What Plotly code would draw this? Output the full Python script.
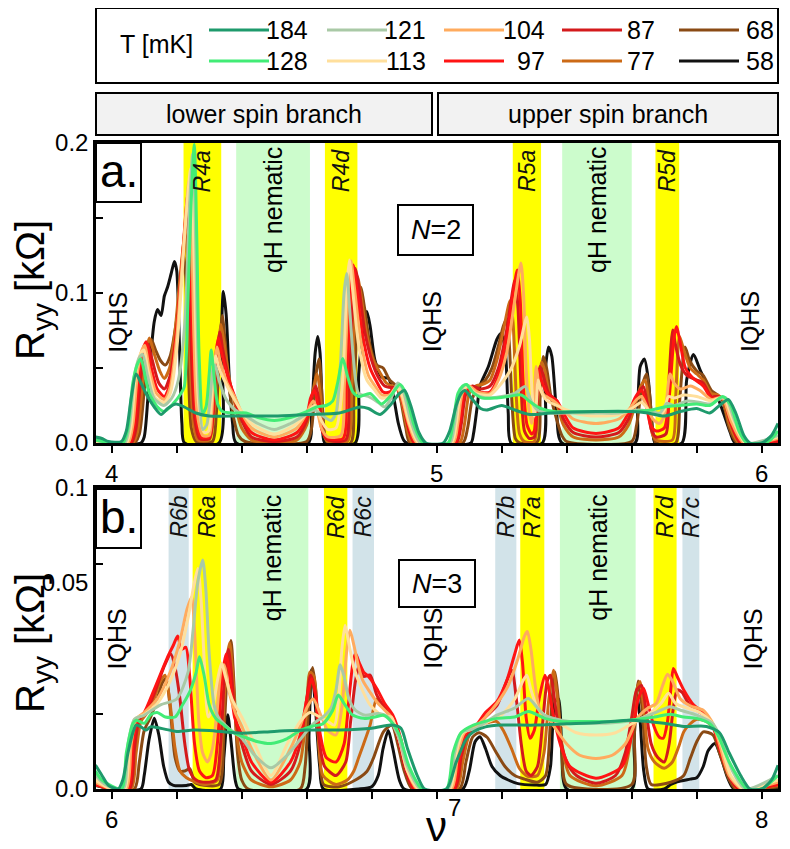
import plotly.graph_objects as go

# ---------------- data ----------------
TEMPS = [58, 68, 77, 87, 97, 104, 113, 121, 128, 184]

# panel a (N=2): (nu, Ryy[kOhm]) pairs per temperature
A58 = [(3.95,0.001),(4.00,0),(4.09,0),(4.100,0.004),(4.111,0.029),(4.121,0.060),(4.131,0.081),(4.141,0.089),(4.152,0.085),(4.162,0.098),(4.172,0.104),(4.183,0.113),(4.193,0.121),(4.200,0.115),(4.208,0.069),(4.216,0.013),(4.224,0),(4.33,0),(4.337,0.069),(4.3435,0.101),(4.352,0.086),(4.362,0.042),(4.372,0.013),(4.383,0),(4.605,0),(4.615,0.02),(4.626,0.06),(4.634,0.071),(4.641,0.06),(4.649,0.018),(4.656,0),(4.749,0),(4.760,0.046),(4.775,0.078),(4.785,0.0876),(4.795,0.078),(4.810,0.055),(4.831,0.044),(4.852,0.043),(4.867,0.031),(4.882,0.013),(4.898,0.002),(4.908,0),(5.105,0),(5.113,0.006),(5.125,0.025),(5.133,0.038),(5.159,0.051),(5.185,0.069),(5.197,0.073),(5.21,0.064),(5.22,0.02),(5.229,0),(5.325,0),(5.333,0.046),(5.344,0.064),(5.354,0.058),(5.369,0.02),(5.385,0),(5.61,0),(5.618,0.02),(5.626,0.051),(5.639,0.056),(5.651,0.042),(5.665,0.007),(5.672,0),(5.754,0),(5.769,0.042),(5.79,0.059),(5.81,0.049),(5.841,0.035),(5.862,0.031),(5.882,0.02),(5.903,0.007),(5.918,0),(6.05,0)]
A68 = [(3.95,0.001),(4.00,0),(4.07,0),(4.085,0.006),(4.10,0.035),(4.112,0.062),(4.122,0.069),(4.135,0.062),(4.15,0.055),(4.165,0.052),(4.18,0.058),(4.195,0.075),(4.21,0.1),(4.222,0.125),(4.228,0.11),(4.236,0.05),(4.245,0.01),(4.26,0.001),(4.31,0.001),(4.322,0.02),(4.333,0.07),(4.340,0.085),(4.348,0.07),(4.36,0.04),(4.375,0.017),(4.39,0.005),(4.41,0.001),(4.60,0.001),(4.615,0.01),(4.628,0.045),(4.638,0.056),(4.646,0.035),(4.655,0.006),(4.665,0),(4.735,0),(4.745,0.03),(4.756,0.085),(4.766,0.104),(4.778,0.09),(4.795,0.065),(4.815,0.052),(4.835,0.05),(4.855,0.042),(4.875,0.038),(4.888,0.03),(4.905,0.01),(4.918,0),(5.08,0),(5.095,0.01),(5.11,0.03),(5.13,0.038),(5.15,0.042),(5.17,0.05),(5.19,0.065),(5.205,0.078),(5.213,0.082),(5.222,0.07),(5.232,0.025),(5.242,0.003),(5.255,0),(5.31,0.001),(5.318,0.03),(5.328,0.0576),(5.338,0.05),(5.352,0.03),(5.37,0.015),(5.385,0.005),(5.40,0.001),(5.60,0.001),(5.615,0.012),(5.632,0.038),(5.646,0.046),(5.656,0.03),(5.666,0.005),(5.675,0),(5.735,0),(5.748,0.03),(5.764,0.064),(5.778,0.055),(5.80,0.048),(5.82,0.045),(5.845,0.035),(5.865,0.032),(5.88,0.028),(5.9,0.01),(5.925,0),(6.05,0.001)]
A77 = [(3.95,0.001),(4.00,0),(4.065,0),(4.08,0.008),(4.095,0.04),(4.107,0.063),(4.116,0.070),(4.13,0.06),(4.148,0.048),(4.162,0.043),(4.178,0.05),(4.195,0.075),(4.21,0.11),(4.226,0.14),(4.233,0.12),(4.242,0.05),(4.252,0.012),(4.265,0.002),(4.30,0.002),(4.315,0.02),(4.328,0.065),(4.336,0.079),(4.345,0.068),(4.36,0.045),(4.38,0.025),(4.40,0.01),(4.43,0.002),(4.5,0),(4.57,0.002),(4.6,0.012),(4.615,0.03),(4.632,0.046),(4.643,0.03),(4.652,0.006),(4.665,0.001),(4.725,0.001),(4.738,0.035),(4.748,0.09),(4.756,0.111),(4.766,0.1),(4.785,0.072),(4.805,0.055),(4.825,0.047),(4.845,0.04),(4.862,0.038),(4.88,0.037),(4.895,0.025),(4.912,0.007),(4.925,0),(5.07,0),(5.085,0.012),(5.1,0.033),(5.12,0.038),(5.14,0.039),(5.164,0.042),(5.185,0.055),(5.205,0.075),(5.226,0.095),(5.235,0.08),(5.245,0.03),(5.255,0.006),(5.27,0.001),(5.30,0.001),(5.312,0.03),(5.323,0.054),(5.333,0.048),(5.348,0.032),(5.37,0.025),(5.39,0.012),(5.42,0.004),(5.49,0.002),(5.56,0.004),(5.59,0.012),(5.61,0.025),(5.628,0.038),(5.641,0.042),(5.652,0.028),(5.662,0.007),(5.675,0.002),(5.725,0.002),(5.735,0.03),(5.747,0.071),(5.76,0.062),(5.78,0.05),(5.80,0.046),(5.82,0.042),(5.845,0.033),(5.865,0.032),(5.88,0.029),(5.9,0.013),(5.93,0),(6.05,0.001)]
A87 = [(3.95,0.001),(4.00,0),(4.06,0),(4.075,0.01),(4.09,0.045),(4.102,0.062),(4.111,0.066),(4.125,0.055),(4.145,0.04),(4.162,0.036),(4.18,0.045),(4.2,0.075),(4.215,0.115),(4.230,0.152),(4.237,0.13),(4.245,0.06),(4.256,0.015),(4.27,0.003),(4.30,0.003),(4.312,0.02),(4.325,0.062),(4.332,0.074),(4.342,0.062),(4.36,0.043),(4.38,0.028),(4.40,0.015),(4.43,0.004),(4.5,0.001),(4.57,0.004),(4.6,0.015),(4.615,0.03),(4.628,0.038),(4.64,0.025),(4.65,0.007),(4.665,0.002),(4.72,0.002),(4.73,0.035),(4.742,0.095),(4.75,0.1164),(4.76,0.105),(4.778,0.075),(4.8,0.055),(4.82,0.044),(4.84,0.038),(4.86,0.037),(4.878,0.037),(4.895,0.028),(4.915,0.008),(4.932,0),(5.06,0),(5.075,0.012),(5.09,0.033),(5.11,0.038),(5.135,0.036),(5.164,0.038),(5.19,0.05),(5.215,0.075),(5.241,0.109),(5.25,0.09),(5.26,0.035),(5.27,0.008),(5.285,0.003),(5.30,0.004),(5.31,0.03),(5.318,0.051),(5.328,0.045),(5.345,0.033),(5.37,0.028),(5.39,0.016),(5.42,0.007),(5.49,0.004),(5.56,0.007),(5.59,0.016),(5.61,0.028),(5.625,0.035),(5.636,0.0376),(5.648,0.026),(5.66,0.009),(5.675,0.004),(5.705,0.006),(5.714,0.04),(5.726,0.0753),(5.735,0.065),(5.75,0.052),(5.77,0.045),(5.8,0.042),(5.82,0.04),(5.845,0.031),(5.865,0.031),(5.882,0.029),(5.905,0.013),(5.935,0),(6.05,0.001)]
A97 = [(3.95,0.001),(4.00,0),(4.055,0),(4.07,0.012),(4.085,0.048),(4.097,0.063),(4.106,0.0675),(4.12,0.052),(4.14,0.036),(4.162,0.031),(4.18,0.04),(4.2,0.075),(4.218,0.125),(4.234,0.165),(4.241,0.14),(4.25,0.06),(4.26,0.018),(4.275,0.004),(4.30,0.004),(4.31,0.02),(4.32,0.058),(4.328,0.070),(4.338,0.06),(4.36,0.042),(4.38,0.03),(4.40,0.018),(4.43,0.007),(4.5,0.002),(4.57,0.007),(4.6,0.018),(4.612,0.03),(4.624,0.035),(4.636,0.023),(4.648,0.008),(4.665,0.003),(4.712,0.003),(4.722,0.035),(4.735,0.1),(4.743,0.1187),(4.753,0.105),(4.772,0.072),(4.795,0.05),(4.815,0.041),(4.835,0.034),(4.855,0.034),(4.875,0.037),(4.892,0.03),(4.915,0.01),(4.935,0),(5.055,0),(5.07,0.012),(5.085,0.033),(5.105,0.037),(5.13,0.034),(5.164,0.034),(5.19,0.045),(5.215,0.07),(5.235,0.1),(5.248,0.1153),(5.257,0.095),(5.266,0.04),(5.278,0.012),(5.292,0.006),(5.30,0.008),(5.306,0.03),(5.313,0.049),(5.322,0.042),(5.34,0.033),(5.37,0.028),(5.39,0.02),(5.42,0.01),(5.49,0.0064),(5.56,0.01),(5.59,0.02),(5.61,0.03),(5.622,0.034),(5.631,0.035),(5.644,0.026),(5.658,0.012),(5.675,0.008),(5.7,0.01),(5.715,0.03),(5.73,0.07),(5.738,0.0776),(5.748,0.068),(5.765,0.05),(5.79,0.043),(5.82,0.038),(5.845,0.03),(5.865,0.03),(5.882,0.03),(5.905,0.014),(5.94,0),(6.05,0.002)]
A104 = [(3.95,0.001),(4.00,0),(4.05,0),(4.065,0.012),(4.08,0.048),(4.093,0.062),(4.102,0.065),(4.115,0.05),(4.138,0.033),(4.162,0.029),(4.18,0.037),(4.2,0.07),(4.222,0.135),(4.238,0.175),(4.245,0.15),(4.253,0.07),(4.263,0.02),(4.28,0.005),(4.30,0.005),(4.308,0.02),(4.316,0.052),(4.324,0.064),(4.333,0.055),(4.355,0.04),(4.38,0.03),(4.40,0.02),(4.43,0.01),(4.5,0.004),(4.57,0.01),(4.6,0.02),(4.62,0.028),(4.632,0.022),(4.645,0.01),(4.665,0.004),(4.705,0.005),(4.716,0.04),(4.728,0.105),(4.736,0.1215),(4.746,0.105),(4.765,0.07),(4.79,0.045),(4.81,0.038),(4.83,0.032),(4.855,0.032),(4.875,0.037),(4.89,0.032),(4.915,0.012),(4.94,0),(5.05,0),(5.065,0.013),(5.08,0.034),(5.1,0.038),(5.125,0.034),(5.164,0.033),(5.19,0.042),(5.215,0.06),(5.24,0.095),(5.259,0.120),(5.267,0.1),(5.275,0.05),(5.285,0.02),(5.292,0.013),(5.298,0.02),(5.306,0.051),(5.314,0.04),(5.33,0.032),(5.36,0.028),(5.39,0.022),(5.42,0.016),(5.49,0.013),(5.56,0.016),(5.59,0.022),(5.615,0.029),(5.63,0.031),(5.645,0.025),(5.665,0.016),(5.685,0.013),(5.7,0.018),(5.718,0.046),(5.73,0.04),(5.75,0.036),(5.78,0.038),(5.81,0.035),(5.845,0.029),(5.865,0.03),(5.88,0.03),(5.905,0.015),(5.945,0),(6.05,0.003)]
A113 = [(3.95,0.001),(4.00,0),(4.045,0),(4.06,0.012),(4.075,0.048),(4.09,0.06),(4.099,0.062),(4.112,0.048),(4.135,0.03),(4.162,0.027),(4.18,0.033),(4.2,0.062),(4.225,0.14),(4.243,0.183),(4.25,0.155),(4.258,0.08),(4.268,0.025),(4.285,0.007),(4.298,0.008),(4.306,0.025),(4.313,0.05),(4.32,0.058),(4.33,0.05),(4.355,0.038),(4.38,0.028),(4.40,0.021),(4.43,0.013),(4.5,0.006),(4.57,0.013),(4.6,0.02),(4.625,0.025),(4.645,0.015),(4.665,0.009),(4.69,0.01),(4.71,0.04),(4.722,0.1),(4.731,0.122),(4.74,0.105),(4.76,0.065),(4.785,0.042),(4.81,0.035),(4.83,0.03),(4.855,0.031),(4.875,0.037),(4.89,0.034),(4.915,0.014),(4.945,0),(5.045,0),(5.06,0.013),(5.075,0.034),(5.095,0.038),(5.12,0.033),(5.164,0.032),(5.2,0.04),(5.23,0.05),(5.255,0.065),(5.277,0.084),(5.285,0.07),(5.293,0.035),(5.3,0.018),(5.306,0.025),(5.312,0.042),(5.32,0.035),(5.34,0.028),(5.37,0.025),(5.4,0.022),(5.44,0.019),(5.49,0.018),(5.56,0.019),(5.6,0.023),(5.63,0.027),(5.66,0.02),(5.685,0.018),(5.7,0.022),(5.713,0.031),(5.73,0.03),(5.76,0.032),(5.8,0.031),(5.845,0.028),(5.87,0.03),(5.885,0.03),(5.91,0.016),(5.95,0),(6.05,0.004)]
A121 = [(3.95,0.002),(4.00,0),(4.04,0),(4.055,0.012),(4.07,0.045),(4.085,0.057),(4.095,0.059),(4.11,0.045),(4.13,0.03),(4.16,0.025),(4.185,0.03),(4.205,0.042),(4.225,0.08),(4.238,0.15),(4.249,0.193),(4.256,0.16),(4.262,0.09),(4.27,0.03),(4.28,0.009),(4.292,0.012),(4.303,0.03),(4.312,0.05),(4.318,0.052),(4.33,0.042),(4.35,0.03),(4.362,0.026),(4.38,0.022),(4.413,0.018),(4.45,0.013),(4.5,0.009),(4.55,0.013),(4.59,0.018),(4.625,0.022),(4.65,0.018),(4.675,0.015),(4.69,0.02),(4.703,0.05),(4.715,0.1),(4.723,0.113),(4.732,0.09),(4.743,0.058),(4.76,0.033),(4.79,0.031),(4.82,0.027),(4.84,0.024),(4.86,0.03),(4.88,0.04),(4.895,0.036),(4.92,0.015),(4.95,0),(5.04,0),(5.055,0.013),(5.07,0.034),(5.09,0.039),(5.115,0.033),(5.15,0.03),(5.2,0.031),(5.24,0.033),(5.272,0.0376),(5.29,0.028),(5.31,0.022),(5.35,0.02),(5.42,0.02),(5.49,0.02),(5.56,0.02),(5.62,0.022),(5.66,0.021),(5.687,0.02),(5.708,0.0264),(5.73,0.025),(5.77,0.028),(5.81,0.027),(5.845,0.026),(5.875,0.03),(5.89,0.03),(5.915,0.016),(5.955,0),(6.05,0.005)]
A128 = [(3.95,0.002),(4.00,0),(4.035,0),(4.05,0.01),(4.065,0.04),(4.08,0.053),(4.09,0.056),(4.105,0.042),(4.116,0.033),(4.141,0.024),(4.162,0.021),(4.188,0.026),(4.213,0.033),(4.2235,0.0376),(4.234,0.091),(4.244,0.158),(4.254,0.199),(4.262,0.135),(4.269,0.058),(4.28,0.02),(4.29,0.024),(4.30,0.046),(4.306,0.062),(4.313,0.049),(4.326,0.026),(4.341,0.021),(4.38,0.02),(4.413,0.02),(4.45,0.017),(4.5,0.015),(4.55,0.017),(4.59,0.02),(4.63,0.024),(4.66,0.025),(4.68,0.028),(4.695,0.04),(4.711,0.0564),(4.725,0.045),(4.742,0.034),(4.76,0.031),(4.795,0.033),(4.83,0.026),(4.86,0.032),(4.887,0.039),(4.905,0.033),(4.93,0.012),(4.958,0),(5.035,0),(5.05,0.013),(5.065,0.033),(5.08,0.038),(5.092,0.039),(5.11,0.034),(5.14,0.03),(5.18,0.03),(5.22,0.031),(5.26,0.032),(5.29,0.027),(5.32,0.023),(5.36,0.021),(5.49,0.021),(5.6,0.021),(5.66,0.022),(5.7,0.024),(5.75,0.025),(5.8,0.026),(5.84,0.025),(5.88,0.031),(5.905,0.025),(5.93,0.008),(5.955,0),(6.02,0.001),(6.05,0.008)]
A184 = [(3.95,0.004),(3.97,0.003),(3.99,0.001),(4.03,0.001),(4.045,0.008),(4.06,0.03),(4.075,0.046),(4.09,0.04),(4.1055,0.033),(4.131,0.024),(4.152,0.019),(4.172,0.023),(4.198,0.026),(4.2235,0.024),(4.259,0.02),(4.3,0.018),(4.4,0.018),(4.5,0.018),(4.6,0.019),(4.7,0.02),(4.764,0.024),(4.79,0.023),(4.826,0.019),(4.86,0.026),(4.885,0.033),(4.901,0.035),(4.92,0.025),(4.945,0.007),(4.967,0),(5.02,0),(5.04,0.008),(5.06,0.025),(5.075,0.033),(5.087,0.035),(5.11,0.029),(5.135,0.023),(5.154,0.022),(5.2,0.025),(5.24,0.022),(5.287,0.019),(5.35,0.02),(5.49,0.021),(5.6,0.021),(5.65,0.02),(5.7,0.018),(5.75,0.021),(5.8,0.023),(5.84,0.02),(5.87,0.025),(5.897,0.029),(5.92,0.02),(5.945,0.005),(5.964,0),(6.0,0),(6.03,0.005),(6.05,0.013)]

# panel b (N=3)
B58 = [(5.95,0.0008),(6.0,0),(6.09,0),(6.1,0.003),(6.115,0.011),(6.131,0.0157),(6.145,0.012),(6.16,0.005),(6.175,0.0015),(6.19,0.0008),(6.23,0.0008),(6.245,0.001),(6.26,0),(6.335,0),(6.345,0.007),(6.357,0.0165),(6.368,0.01),(6.38,0.002),(6.39,0),(6.6,0),(6.607,0.012),(6.615,0.0265),(6.625,0.02),(6.64,0.005),(6.651,0),(6.76,0),(6.8,0.0005),(6.82,0.003),(6.835,0.009),(6.851,0.013),(6.865,0.009),(6.885,0.002),(6.9,0),(7.08,0),(7.1,0.004),(7.118,0.0105),(7.133,0.0116),(7.15,0.009),(7.17,0.005),(7.195,0.003),(7.22,0.002),(7.25,0.0012),(7.3,0.0009),(7.335,0.001),(7.35,0.005),(7.364,0.0195),(7.375,0.02),(7.385,0.008),(7.4,0),(7.6,0),(7.607,0.01),(7.615,0.0216),(7.625,0.016),(7.637,0.004),(7.65,0),(7.7,0),(7.72,0.001),(7.74,0.0016),(7.78,0.0022),(7.80,0.0025),(7.82,0.005),(7.835,0.0085),(7.856,0.0101),(7.875,0.007),(7.895,0.0025),(7.915,0),(8.05,0)]
B68 = [(5.95,0.0008),(6.0,0),(6.07,0),(6.085,0.006),(6.1,0.013),(6.12,0.016),(6.14,0.02),(6.155,0.0235),(6.167,0.0246),(6.18,0.018),(6.195,0.007),(6.21,0.004),(6.225,0.004),(6.24,0.0045),(6.255,0.0015),(6.27,0.001),(6.33,0.001),(6.345,0.012),(6.357,0.028),(6.367,0.033),(6.375,0.025),(6.387,0.008),(6.40,0.002),(6.42,0),(6.58,0),(6.595,0.005),(6.606,0.018),(6.618,0.027),(6.628,0.022),(6.64,0.008),(6.652,0.001),(6.7,0.0005),(6.74,0.0016),(6.785,0.0039),(6.805,0.0068),(6.836,0.0127),(6.862,0.0142),(6.88,0.01),(6.9,0.004),(6.925,0),(7.07,0),(7.09,0.006),(7.11,0.0115),(7.13,0.0125),(7.155,0.0115),(7.18,0.0085),(7.21,0.005),(7.24,0.003),(7.27,0.0022),(7.31,0.0015),(7.335,0.003),(7.35,0.015),(7.364,0.026),(7.374,0.02),(7.385,0.008),(7.4,0.001),(7.6,0.001),(7.608,0.012),(7.62,0.024),(7.632,0.018),(7.645,0.005),(7.66,0.001),(7.72,0.0015),(7.76,0.003),(7.78,0.0068),(7.80,0.0105),(7.82,0.0127),(7.85,0.012),(7.87,0.008),(7.9,0.002),(7.92,0),(8.05,0.0005)]
B77 = [(5.95,0.001),(6.0,0),(6.06,0),(6.075,0.008),(6.09,0.015),(6.11,0.017),(6.13,0.02),(6.15,0.024),(6.164,0.0253),(6.178,0.02),(6.195,0.009),(6.21,0.004),(6.23,0.0025),(6.26,0.0015),(6.29,0.001),(6.325,0.002),(6.34,0.012),(6.353,0.028),(6.363,0.0325),(6.372,0.026),(6.385,0.012),(6.40,0.006),(6.43,0.002),(6.49,0.0005),(6.55,0.002),(6.58,0.006),(6.598,0.016),(6.61,0.026),(6.622,0.025),(6.635,0.012),(6.65,0.003),(6.69,0.001),(6.725,0.002),(6.745,0.004),(6.76,0.007),(6.774,0.0098),(6.795,0.0142),(6.815,0.02),(6.83,0.019),(6.855,0.0165),(6.875,0.013),(6.895,0.007),(6.915,0.002),(6.93,0),(7.06,0),(7.08,0.006),(7.1,0.012),(7.13,0.0142),(7.16,0.0148),(7.185,0.015),(7.205,0.013),(7.23,0.009),(7.255,0.0045),(7.28,0.0028),(7.31,0.003),(7.33,0.008),(7.345,0.02),(7.359,0.0264),(7.37,0.021),(7.385,0.01),(7.41,0.003),(7.49,0.0007),(7.57,0.003),(7.595,0.01),(7.612,0.021),(7.625,0.0239),(7.637,0.018),(7.65,0.009),(7.67,0.006),(7.7,0.0046),(7.725,0.006),(7.745,0.0095),(7.76,0.0127),(7.78,0.0145),(7.8,0.0155),(7.83,0.015),(7.855,0.013),(7.875,0.008),(7.9,0.003),(7.925,0),(8.05,0.0008)]
B87 = [(5.95,0.001),(6.0,0),(6.055,0),(6.07,0.009),(6.085,0.0155),(6.105,0.017),(6.13,0.021),(6.16,0.027),(6.182,0.030),(6.195,0.027),(6.21,0.02),(6.225,0.01),(6.24,0.004),(6.26,0.002),(6.29,0.0015),(6.32,0.002),(6.335,0.01),(6.348,0.026),(6.359,0.031),(6.368,0.026),(6.382,0.015),(6.40,0.01),(6.43,0.004),(6.49,0.001),(6.55,0.004),(6.58,0.01),(6.6,0.02),(6.612,0.0253),(6.625,0.022),(6.64,0.01),(6.655,0.005),(6.69,0.003),(6.72,0.006),(6.735,0.015),(6.75,0.024),(6.762,0.0276),(6.775,0.025),(6.795,0.0253),(6.815,0.021),(6.84,0.018),(6.865,0.015),(6.885,0.01),(6.905,0.004),(6.93,0),(7.055,0),(7.075,0.007),(7.095,0.012),(7.12,0.0135),(7.15,0.016),(7.185,0.0185),(7.21,0.023),(7.231,0.0264),(7.245,0.02),(7.26,0.01),(7.275,0.004),(7.29,0.003),(7.31,0.005),(7.325,0.014),(7.34,0.024),(7.35,0.0253),(7.362,0.02),(7.378,0.012),(7.4,0.006),(7.43,0.003),(7.49,0.0013),(7.55,0.003),(7.58,0.008),(7.6,0.016),(7.615,0.022),(7.63,0.023),(7.643,0.018),(7.66,0.01),(7.68,0.007),(7.7,0.006),(7.715,0.01),(7.728,0.018),(7.74,0.022),(7.755,0.0215),(7.775,0.019),(7.8,0.0175),(7.83,0.016),(7.855,0.013),(7.88,0.007),(7.905,0.002),(7.93,0),(8.05,0.001)]
B97 = [(5.95,0.001),(6.0,0),(6.05,0),(6.065,0.01),(6.08,0.0155),(6.1,0.017),(6.13,0.022),(6.17,0.029),(6.19,0.032),(6.203,0.034),(6.215,0.031),(6.228,0.0315),(6.24,0.025),(6.255,0.01),(6.27,0.004),(6.29,0.0025),(6.31,0.003),(6.325,0.01),(6.34,0.025),(6.352,0.030),(6.362,0.026),(6.378,0.016),(6.40,0.012),(6.43,0.006),(6.49,0.0015),(6.55,0.006),(6.58,0.012),(6.6,0.02),(6.615,0.0245),(6.627,0.021),(6.642,0.012),(6.66,0.007),(6.69,0.006),(6.715,0.01),(6.73,0.02),(6.742,0.028),(6.75,0.0301),(6.762,0.028),(6.775,0.026),(6.79,0.025),(6.815,0.0224),(6.84,0.019),(6.865,0.0164),(6.89,0.011),(6.91,0.004),(6.935,0),(7.05,0),(7.07,0.007),(7.09,0.0125),(7.12,0.014),(7.15,0.017),(7.185,0.0194),(7.215,0.024),(7.24,0.03),(7.254,0.0331),(7.264,0.028),(7.275,0.016),(7.287,0.0113),(7.3,0.013),(7.315,0.02),(7.333,0.0253),(7.345,0.022),(7.36,0.016),(7.38,0.01),(7.41,0.005),(7.49,0.0024),(7.57,0.005),(7.6,0.012),(7.62,0.02),(7.636,0.0224),(7.65,0.019),(7.668,0.014),(7.685,0.0115),(7.697,0.0113),(7.71,0.015),(7.72,0.022),(7.728,0.0268),(7.74,0.025),(7.76,0.022),(7.79,0.0187),(7.82,0.017),(7.85,0.014),(7.87,0.009),(7.9,0.003),(7.935,0),(8.05,0.001)]
B104 = [(5.95,0.0015),(6.0,0),(6.045,0),(6.06,0.01),(6.075,0.0155),(6.1,0.017),(6.14,0.02),(6.18,0.026),(6.21,0.033),(6.232,0.04),(6.246,0.0427),(6.255,0.035),(6.268,0.015),(6.28,0.008),(6.295,0.006),(6.31,0.009),(6.325,0.018),(6.338,0.027),(6.346,0.0276),(6.36,0.022),(6.38,0.017),(6.40,0.014),(6.43,0.009),(6.49,0.002),(6.55,0.009),(6.58,0.014),(6.6,0.018),(6.62,0.02),(6.64,0.017),(6.665,0.013),(6.69,0.012),(6.708,0.018),(6.722,0.03),(6.733,0.0353),(6.745,0.032),(6.76,0.027),(6.774,0.0239),(6.795,0.0215),(6.815,0.0194),(6.84,0.0175),(6.86,0.016),(6.885,0.011),(6.91,0.004),(6.94,0),(7.045,0),(7.065,0.008),(7.085,0.0125),(7.12,0.014),(7.15,0.016),(7.185,0.019),(7.22,0.023),(7.25,0.029),(7.27,0.034),(7.279,0.035),(7.29,0.031),(7.305,0.022),(7.32,0.017),(7.34,0.016),(7.36,0.014),(7.4,0.01),(7.44,0.0075),(7.49,0.0068),(7.54,0.0075),(7.58,0.01),(7.62,0.016),(7.65,0.018),(7.675,0.019),(7.695,0.023),(7.71,0.0255),(7.725,0.024),(7.75,0.02),(7.78,0.0185),(7.82,0.0175),(7.85,0.0145),(7.87,0.01),(7.9,0.003),(7.94,0),(8.05,0.0015)]
B113 = [(5.95,0.002),(6.0,0),(6.04,0),(6.055,0.01),(6.07,0.0155),(6.1,0.0165),(6.14,0.019),(6.18,0.024),(6.21,0.03),(6.235,0.038),(6.252,0.045),(6.265,0.049),(6.275,0.042),(6.285,0.028),(6.297,0.016),(6.31,0.018),(6.325,0.024),(6.338,0.028),(6.35,0.025),(6.37,0.02),(6.40,0.016),(6.44,0.01),(6.49,0.003),(6.54,0.01),(6.58,0.015),(6.61,0.017),(6.64,0.016),(6.665,0.015),(6.685,0.0142),(6.698,0.02),(6.708,0.031),(6.718,0.0364),(6.728,0.033),(6.745,0.027),(6.765,0.023),(6.795,0.0187),(6.83,0.0164),(6.86,0.016),(6.885,0.011),(6.91,0.004),(6.945,0),(7.04,0),(7.06,0.008),(7.08,0.0125),(7.12,0.0135),(7.16,0.015),(7.2,0.0165),(7.24,0.02),(7.265,0.024),(7.277,0.0253),(7.29,0.022),(7.31,0.018),(7.34,0.016),(7.38,0.0145),(7.43,0.0125),(7.49,0.012),(7.55,0.0125),(7.6,0.0145),(7.65,0.0165),(7.69,0.019),(7.713,0.0213),(7.735,0.019),(7.77,0.018),(7.81,0.017),(7.85,0.0145),(7.875,0.01),(7.905,0.003),(7.945,0),(8.05,0.002)]
B121 = [(5.95,0.003),(5.98,0.001),(6.035,0),(6.05,0.01),(6.07,0.0155),(6.1,0.0164),(6.15,0.0187),(6.2,0.020),(6.235,0.026),(6.25,0.035),(6.265,0.046),(6.28,0.0509),(6.29,0.044),(6.3,0.03),(6.315,0.0187),(6.33,0.0157),(6.36,0.0135),(6.40,0.0113),(6.44,0.0075),(6.49,0.0047),(6.54,0.0075),(6.58,0.011),(6.62,0.0145),(6.65,0.016),(6.675,0.018),(6.69,0.022),(6.703,0.0276),(6.715,0.025),(6.73,0.02),(6.75,0.0175),(6.78,0.0164),(6.82,0.0168),(6.85,0.016),(6.88,0.012),(6.91,0.005),(6.95,0),(7.035,0),(7.055,0.008),(7.075,0.0125),(7.12,0.0135),(7.185,0.0164),(7.24,0.018),(7.282,0.0201),(7.31,0.018),(7.333,0.0164),(7.37,0.0155),(7.43,0.0148),(7.49,0.0146),(7.55,0.0148),(7.62,0.0155),(7.68,0.0172),(7.718,0.0183),(7.75,0.0175),(7.8,0.0164),(7.85,0.0145),(7.875,0.011),(7.91,0.004),(7.95,0),(8.05,0.003)]
B128 = [(5.95,0.004),(5.97,0.002),(6.03,0),(6.045,0.008),(6.065,0.0145),(6.076,0.0153),(6.1,0.0146),(6.12,0.0165),(6.14,0.017),(6.165,0.016),(6.195,0.016),(6.218,0.0187),(6.24,0.0216),(6.26,0.026),(6.27,0.0294),(6.285,0.025),(6.3,0.0187),(6.32,0.0157),(6.345,0.0142),(6.37,0.0127),(6.41,0.0115),(6.45,0.0105),(6.49,0.0101),(6.54,0.0112),(6.58,0.013),(6.62,0.014),(6.65,0.0145),(6.68,0.0175),(6.697,0.0209),(6.715,0.019),(6.74,0.0165),(6.775,0.0157),(6.81,0.016),(6.836,0.0164),(6.86,0.015),(6.885,0.012),(6.915,0.005),(6.955,0),(7.03,0),(7.05,0.008),(7.075,0.0125),(7.113,0.0142),(7.185,0.0157),(7.24,0.016),(7.282,0.0172),(7.333,0.0157),(7.38,0.015),(7.45,0.015),(7.55,0.015),(7.62,0.0155),(7.67,0.016),(7.718,0.0166),(7.76,0.016),(7.8,0.0157),(7.84,0.0145),(7.865,0.012),(7.9,0.006),(7.955,0),(8.0,0),(8.05,0.003)]
B184 = [(5.95,0.0053),(5.97,0.003),(5.99,0.0008),(6.02,0),(6.034,0.002),(6.05,0.008),(6.065,0.0125),(6.075,0.0142),(6.09,0.0138),(6.105,0.0131),(6.12,0.0138),(6.15,0.0135),(6.2,0.0128),(6.25,0.0131),(6.3,0.013),(6.4,0.0124),(6.5,0.0128),(6.6,0.0131),(6.7,0.0131),(6.8,0.0135),(6.86,0.0142),(6.89,0.0135),(6.91,0.009),(6.94,0.003),(6.963,0),(7.03,0),(7.06,0.006),(7.09,0.011),(7.113,0.0127),(7.15,0.0138),(7.2,0.0142),(7.3,0.0142),(7.4,0.0145),(7.5,0.0148),(7.595,0.0153),(7.65,0.015),(7.7,0.0146),(7.76,0.0139),(7.83,0.0139),(7.87,0.0125),(7.9,0.008),(7.935,0.003),(7.964,0),(8.0,0),(8.03,0.002),(8.05,0.0053)]

A_SERIES = [A58, A68, A77, A87, A97, A104, A113, A121, A128, A184]
B_SERIES = [B58, B68, B77, B87, B97, B104, B113, B121, B128, B184]

# highlighted nu intervals (label, nu_start, nu_end, kind)
BANDS_A = [("R4a", 4.221, 4.337, "y"), ("qH nematic", 4.383, 4.610, "g"), ("R4d", 4.656, 4.756, "y"),
           ("R5a", 5.234, 5.321, "y"), ("qH nematic", 5.386, 5.600, "g"), ("R5d", 5.673, 5.746, "y")]
BANDS_B = [("R6b", 6.175, 6.237, "b"), ("R6a", 6.249, 6.336, "y"), ("qH nematic", 6.383, 6.605, "g"),
           ("R6d", 6.653, 6.725, "y"), ("R6c", 6.741, 6.807, "b"), ("R7b", 7.180, 7.245, "b"),
           ("R7a", 7.257, 7.331, "y"), ("qH nematic", 7.379, 7.612, "g"), ("R7d", 7.667, 7.738, "y"),
           ("R7c", 7.756, 7.808, "b")]
IQHS_A = [4.019, 4.986, 5.964]
IQHS_B = [6.016, 6.986, 7.973]

# ---------------- styling / geometry ----------------
COLORS = ['#111111', '#8a4a14', '#cc6a16', '#d41a1c', '#ff1414', '#ffab5e',
          '#ffdf9c', '#a9c9a6', '#42ec76', '#1e9a6c']
BAND_COLORS = {"y": "#ffff00", "g": "#ccfccc", "b": "#d2e3e9"}
FONT = "Liberation Sans, Arial, sans-serif"
OFF = 8                      # page body margin of the browser
W, H = 790 - 2 * OFF, 849 - OFF
ML = 96 - OFF
MR = W - (778 - OFF)
PW = W - ML - MR

def px(x):
    return (x - OFF - ML) / PW

def py(y):
    return 1 - (y - OFF) / H

fig = go.Figure()

for col, a, b in zip(COLORS, A_SERIES, B_SERIES):
    fig.add_trace(go.Scatter(x=[p[0] for p in a], y=[p[1] for p in a], mode='lines',
                             line=dict(color=col, width=3, shape='spline', smoothing=0.7),
                             xaxis='x', yaxis='y', showlegend=False, hoverinfo='skip'))
    fig.add_trace(go.Scatter(x=[p[0] for p in b], y=[p[1] for p in b], mode='lines',
                             line=dict(color=col, width=3, shape='spline', smoothing=0.7),
                             xaxis='x2', yaxis='y2', showlegend=False, hoverinfo='skip'))

shapes = []
annotations = []

def add_bands(bands, xref, yref, label_y):
    for name, x0, x1, kind in bands:
        shapes.append(dict(type='rect', xref=xref, yref=yref + ' domain', x0=x0, x1=x1, y0=0, y1=1,
                           fillcolor=BAND_COLORS[kind], line=dict(width=0), layer='below'))
        if name == "qH nematic":
            annotations.append(dict(x=(x0 + x1) / 2, y=label_y[1], xref=xref, yref='paper',
                                    text="qH nematic", showarrow=False, textangle=-90,
                                    font=dict(family=FONT, size=25, color='black'),
                                    xanchor='center', yanchor='middle'))
        else:
            annotations.append(dict(x=(x0 + x1) / 2, y=label_y[0], xref=xref, yref='paper',
                                    text="<i>%s</i>" % name, showarrow=False, textangle=-90,
                                    font=dict(family=FONT, size=23, color='#111111'),
                                    xanchor='center', yanchor='middle'))

add_bands(BANDS_A, 'x', 'y', (py(171), py(210)))
add_bands(BANDS_B, 'x2', 'y2', (py(517), py(558)))

for xv in IQHS_A:
    annotations.append(dict(x=xv, y=py(322), xref='x', yref='paper', text="IQHS", showarrow=False,
                            textangle=-90, font=dict(family=FONT, size=25, color='black')))
for xv in IQHS_B:
    annotations.append(dict(x=xv, y=py(671), xref='x2', yref='paper', text="IQHS", showarrow=False,
                            textangle=-90, font=dict(family=FONT, size=25, color='black')))

def box(x0, y0, x1, y1, fill='white'):
    shapes.append(dict(type='rect', xref='paper', yref='paper', x0=px(x0), x1=px(x1),
                       y0=py(y1), y1=py(y0), fillcolor=fill, line=dict(color='black', width=2),
                       layer='above'))

def text(x, y, s, size, **kw):
    d = dict(x=px(x), y=py(y), xref='paper', yref='paper', text=s, showarrow=False,
             font=dict(family=FONT, size=size, color='black'), xanchor='center', yanchor='middle')
    d.update(kw)
    annotations.append(d)

# panel letters and N boxes
box(96, 143, 141, 202)
text(118.5, 171, "a.", 46)
box(96, 489, 141, 548)
text(118.5, 517, "b.", 46)
box(398, 205, 473, 255)
text(435.5, 230, "<i>N</i>=2", 27)
box(399, 560, 475, 607)
text(437, 583.5, "<i>N</i>=3", 27)

# legend box
box(96, 8, 778, 83)
text(156, 44, "T [mK]", 25)
LEG_LINES = [(209, 269), (327, 387), (444, 504), (562, 622), (679, 739)]
LEG_TEXT_RIGHT = [310, 428, 547, 657, 776]
ROW_Y = [30, 61]
LEG_ORDER = [[184, 128], [121, 113], [104, 97], [87, 77], [68, 58]]
for (lx0, lx1), tr, temps in zip(LEG_LINES, LEG_TEXT_RIGHT, LEG_ORDER):
    for ry, t in zip(ROW_Y, temps):
        col = COLORS[TEMPS.index(t)]
        shapes.append(dict(type='line', xref='paper', yref='paper', x0=px(lx0), x1=px(lx1),
                           y0=py(ry), y1=py(ry), line=dict(color=col, width=3)))
        text(tr, ry, str(t), 25, xanchor='right')

# spin branch boxes
box(96, 93, 432, 135, fill='#f2f2f2')
box(438, 93, 778, 135, fill='#f2f2f2')
text(264, 114, "lower spin branch", 25)
text(608, 114, "upper spin branch", 25)

# axis titles
text(33, 290, "R<sub>yy</sub> [kΩ]", 40, textangle=-90)
text(33, 643, "R<sub>yy</sub> [kΩ]", 40, textangle=-90)
text(436, 826, "ν", 42)
text(454, 807, "7", 24)

axis_common = dict(showline=True, linewidth=2.5, linecolor='black', mirror=True, automargin=False,
                   showgrid=False, zeroline=False, tickfont=dict(family=FONT, size=24, color='black'),
                   tickcolor='black', tickwidth=2)

fig.update_layout(
    width=W, height=H, margin=dict(l=ML, r=MR, t=0, b=0, pad=0, autoexpand=False),
    paper_bgcolor='white', plot_bgcolor='white',
    xaxis=dict(domain=[0, 1], anchor='y', range=[3.9517, 6.050], tickmode='array',
               tickvals=[4, 5, 6], ticktext=['4', '5', '6'], ticks='outside', ticklen=7,
               minor=dict(tickmode='array', tickvals=[4.2, 4.4, 4.6, 4.8, 5.2, 5.4, 5.6, 5.8],
                          ticks='outside', ticklen=7, tickwidth=2, tickcolor='black'),
               **axis_common),
    yaxis=dict(domain=[py(443), py(143)], anchor='x', range=[0, 0.2], tickmode='array',
               tickvals=[0, 0.1, 0.2], ticktext=['0.0', '0.1', '0.2'], ticks='inside', ticklen=7,
               minor=dict(tickmode='array', tickvals=[0.05, 0.15], ticks='inside', ticklen=7,
                          tickwidth=2, tickcolor='black'),
               **axis_common),
    xaxis2=dict(domain=[0, 1], anchor='y2', range=[5.9517, 8.050], tickmode='array',
                tickvals=[6, 8], ticktext=['6', '8'], ticks='outside', ticklen=7,
                minor=dict(tickmode='array', tickvals=[6.2, 6.4, 6.6, 6.8, 7.0, 7.2, 7.4, 7.6, 7.8],
                           ticks='outside', ticklen=7, tickwidth=2, tickcolor='black'),
                **axis_common),
    yaxis2=dict(domain=[py(789), py(488)], anchor='x2', range=[0, 0.0669], tickmode='array',
                tickvals=[0, 0.0458, 0.0669], ticktext=['0.0', '0.05', '0.1'], ticks='',
                minor=dict(tickmode='array', tickvals=[0.01667, 0.03333, 0.05], ticks='inside',
                           ticklen=7, tickwidth=2, tickcolor='black'),
                **axis_common),
    shapes=shapes, annotations=annotations,
)

fig.write_html("out.html")
